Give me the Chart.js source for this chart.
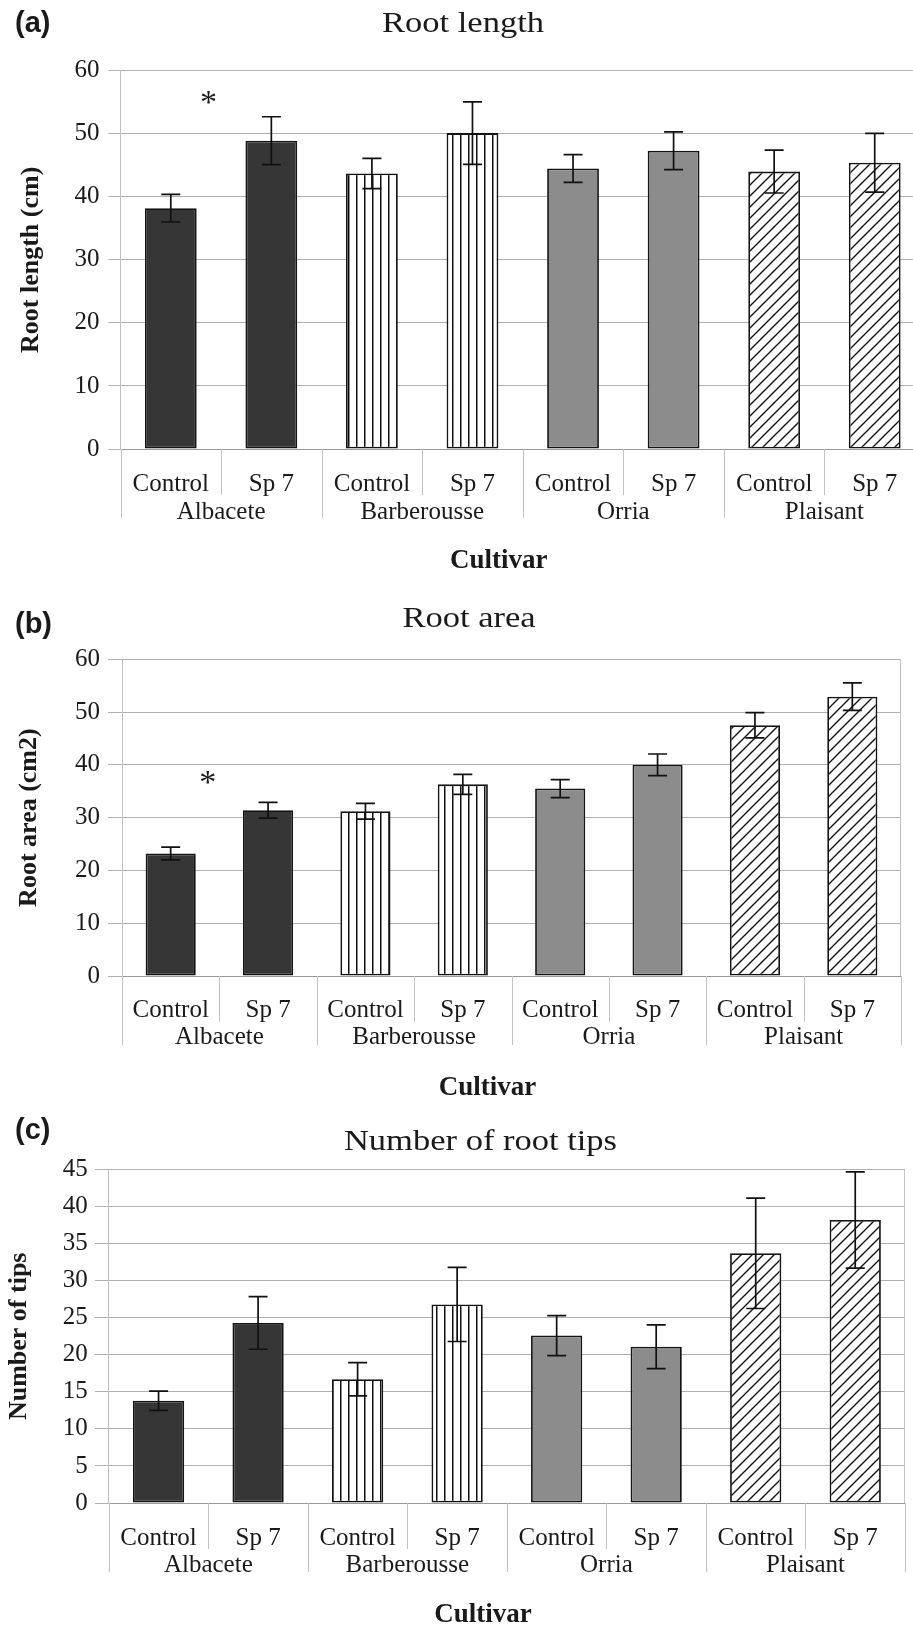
<!DOCTYPE html>
<html>
<head>
<meta charset="utf-8">
<script src="https://cdn.jsdelivr.net/npm/chart.js@4.4.0/dist/chart.umd.min.js"></script>
<style>
  html, body { margin: 0; padding: 0; background: #fff; overflow: hidden; }
  body { width: 913px; height: 1625px; position: relative; }
  canvas { position: absolute; left: 0; }
</style>
</head>
<body>
<canvas id="chartA" width="925" height="580" style="top:0px"></canvas>
<canvas id="chartB" width="913" height="525" style="top:580px"></canvas>
<canvas id="chartC" width="913" height="520" style="top:1105px"></canvas>
<script>
// categories
const groups = ['Albacete', 'Barberousse', 'Orria', 'Plaisant'];
const treatments = ['Control', 'Sp 7'];
const categories = groups.flatMap(() => treatments);

// (a) root length, cm
const rootLength = [38.2, 48.9, 43.7, 50.1, 44.5, 47.3, 44.0, 45.4];
const rootLengthErr = [2.2, 3.8, 2.4, 4.95, 2.2, 3.0, 3.4, 4.65];
const lengthTicks = [0, 10, 20, 30, 40, 50, 60];

// (b) root area, cm2
const rootArea = [23.2, 31.4, 31.2, 36.3, 35.5, 40.0, 47.5, 52.9];
const rootAreaErr = [1.2, 1.5, 1.5, 1.9, 1.7, 2.05, 2.4, 2.6];
const areaTicks = [0, 10, 20, 30, 40, 50, 60];

// (c) number of root tips
const rootTips = [13.8, 24.3, 16.7, 26.8, 22.6, 21.1, 33.7, 38.2];
const rootTipsErr = [1.3, 3.55, 2.25, 5.0, 2.7, 2.95, 7.45, 6.5];
const tipsTicks = [0, 5, 10, 15, 20, 25, 30, 35, 40, 45];

// significance marks: [category position, value]
const starLength = [0.375, 55.9];
const starArea = [0.38, 37.6];

const SERIF = '"Liberation Serif", "Times New Roman", serif';
const SANS = '"Liberation Sans", Arial, sans-serif';
const INK = '#1a1a1a';

function verticalPattern() {
  const c = document.createElement('canvas');
  c.width = 8; c.height = 8;
  const g = c.getContext('2d');
  g.fillStyle = '#fff'; g.fillRect(0, 0, 8, 8);
  g.fillStyle = '#111'; g.fillRect(4, 0, 1.5, 8);
  return g.createPattern(c, 'repeat');
}

function diagonalPattern() {
  const n = 11;
  const c = document.createElement('canvas');
  c.width = n; c.height = n;
  const g = c.getContext('2d');
  g.fillStyle = '#fff'; g.fillRect(0, 0, n, n);
  g.strokeStyle = '#111'; g.lineWidth = 1.4;
  g.beginPath();
  g.moveTo(-1, n + 1); g.lineTo(n + 1, -1);
  g.moveTo(-2, 2); g.lineTo(2, -2);
  g.moveTo(n - 2, n + 2); g.lineTo(n + 2, n - 2);
  g.stroke();
  return g.createPattern(c, 'repeat');
}

const groupFills = ['#363636', verticalPattern(), '#8c8c8c', diagonalPattern()];
const barFills = categories.map((_, i) => groupFills[Math.floor(i / treatments.length)]);

function decor(p) {
  return {
    id: 'panelDecor',
    afterDatasetsDraw(chart) {
      const ctx = chart.ctx, y = chart.scales.y;
      const bars = chart.getDatasetMeta(0).data;
      ctx.save();
      ctx.strokeStyle = '#111';
      ctx.lineWidth = 1.7;
      bars.forEach((bar, i) => {
        const top = y.getPixelForValue(p.values[i] + p.errors[i]);
        const bot = y.getPixelForValue(p.values[i] - p.errors[i]);
        ctx.beginPath();
        ctx.moveTo(bar.x, top); ctx.lineTo(bar.x, bot);
        ctx.moveTo(bar.x - 9.5, top); ctx.lineTo(bar.x + 9.5, top);
        ctx.moveTo(bar.x - 9.5, bot); ctx.lineTo(bar.x + 9.5, bot);
        ctx.stroke();
      });
      ctx.restore();
    },
    afterDraw(chart) {
      const ctx = chart.ctx, x = chart.scales.x, y = chart.scales.y;
      const area = chart.chartArea;
      ctx.save();

      // category separators below the axis
      ctx.strokeStyle = '#c4c4c4';
      ctx.lineWidth = 1;
      for (let k = 0; k <= categories.length; k++) {
        const px = Math.round(x.getPixelForValue(k - 0.5)) + 0.5;
        const len = k % treatments.length === 0 ? 69 : 46;
        ctx.beginPath();
        ctx.moveTo(px, area.bottom);
        ctx.lineTo(px, area.bottom + len);
        ctx.stroke();
      }
      // right border of the plot
      ctx.beginPath();
      ctx.moveTo(Math.round(area.right) - 0.5, area.top);
      ctx.lineTo(Math.round(area.right) - 0.5, area.bottom);
      ctx.stroke();

      ctx.fillStyle = INK;
      // group names
      ctx.font = `25px ${SERIF}`;
      ctx.textAlign = 'center';
      ctx.textBaseline = 'alphabetic';
      groups.forEach((g, i) => {
        const cx = x.getPixelForValue(i * treatments.length + 0.5);
        ctx.fillText(g, cx, area.bottom + p.groupBase);
      });

      // x axis title
      ctx.font = `bold 27px ${SERIF}`;
      ctx.fillText('Cultivar', (area.left + area.right) / 2 - 24, area.bottom + 119);

      // panel title
      ctx.save();
      ctx.font = `30px ${SERIF}`;
      ctx.translate(p.titleX, p.titleBase);
      ctx.scale(1.15, 1);
      ctx.fillText(p.title, 0, 0);
      ctx.restore();

      // panel letter
      ctx.font = `bold 29px ${SANS}`;
      ctx.textAlign = 'left';
      ctx.fillText(p.letter, 15, p.letterBase);

      // significance mark
      if (p.star) {
        ctx.font = `34px ${SERIF}`;
        ctx.textAlign = 'center';
        ctx.fillText('*', x.getPixelForValue(p.star[0]), y.getPixelForValue(p.star[1]) + 16);
      }
      ctx.restore();
    }
  };
}

function makeChart(id, p) {
  return new Chart(document.getElementById(id), {
    type: 'bar',
    data: {
      labels: categories,
      datasets: [{
        data: p.values,
        backgroundColor: barFills,
        borderColor: '#141414',
        borderWidth: 1.8,
        borderSkipped: false,
        barPercentage: 0.515,
        categoryPercentage: 1
      }]
    },
    options: {
      responsive: false,
      animation: false,
      devicePixelRatio: 1,
      layout: { padding: { top: p.top, right: p.right, left: 0, bottom: 0 } },
      plugins: {
        legend: { display: false },
        tooltip: { enabled: false },
        title: { display: false }
      },
      scales: {
        x: {
          offset: true,
          grid: { display: false, drawTicks: false },
          border: { display: true, color: '#9a9a9a', width: 1 },
          ticks: {
            color: INK,
            font: { family: SERIF, size: 25 },
            padding: p.xPad,
            autoSkip: false,
            maxRotation: 0
          },
          afterFit: s => { s.height = p.xHeight; }
        },
        y: {
          min: 0,
          max: p.ticks[p.ticks.length - 1],
          afterBuildTicks: s => { s.ticks = p.ticks.map(v => ({ value: v })); },
          afterFit: s => { s.width = p.left; },
          grid: { color: '#b0b0b0', lineWidth: 1, drawTicks: true, tickLength: p.tickLen, tickColor: '#b0b0b0' },
          border: { display: true, color: '#c0c0c0', width: 1 },
          ticks: { color: INK, font: { family: SERIF, size: 25 }, padding: p.tickPad },
          title: {
            display: true,
            text: p.yTitle,
            color: INK,
            font: { family: SERIF, size: 26, weight: 'bold' },
            padding: { top: p.yTitlePad, bottom: 0 }
          }
        }
      }
    },
    plugins: [decor(p)]
  });
}

makeChart('chartA', {
  values: rootLength, errors: rootLengthErr, ticks: lengthTicks,
  yTitle: 'Root length (cm)', title: 'Root length', letter: '(a)',
  top: 70.7, right: 0, left: 120.5, xHeight: 131,
  tickLen: 12, tickPad: 9, yTitlePad: 15.4, xPad: 20, groupBase: 70,
  titleX: 463, titleBase: 32, letterBase: 32, star: starLength
});

makeChart('chartB', {
  values: rootArea, errors: rootAreaErr, ticks: areaTicks,
  yTitle: 'Root area (cm2)', title: 'Root area', letter: '(b)',
  top: 79.2, right: 12, left: 122, xHeight: 129,
  tickLen: 14, tickPad: 8, yTitlePad: 13.4, xPad: 19, groupBase: 68,
  titleX: 469, titleBase: 47, letterBase: 53, star: starArea
});

makeChart('chartC', {
  values: rootTips, errors: rootTipsErr, ticks: tipsTicks,
  yTitle: 'Number of tips', title: 'Number of root tips', letter: '(c)',
  top: 64.6, right: 8, left: 108.8, xHeight: 122,
  tickLen: 14, tickPad: 7, yTitlePad: 3.3, xPad: 20, groupBase: 69,
  titleX: 480.5, titleBase: 45, letterBase: 34, star: null
});
</script>
</body>
</html>
